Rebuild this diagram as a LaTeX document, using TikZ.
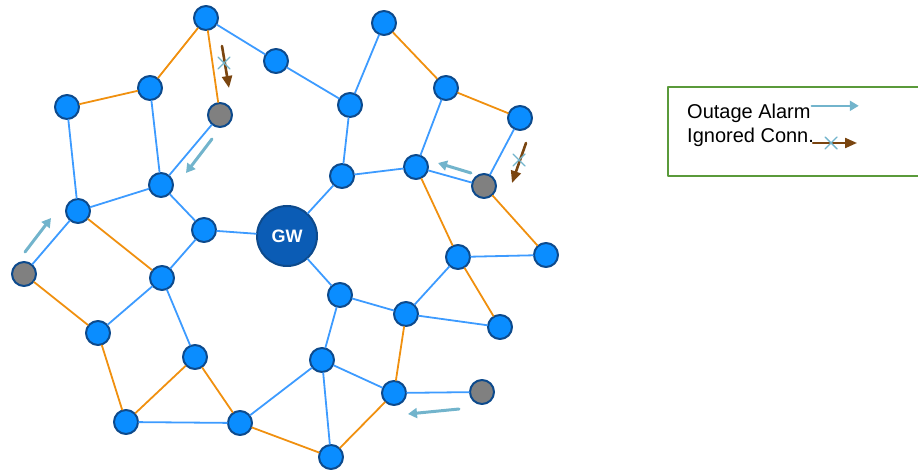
\documentclass[tikz,border=0pt]{standalone}
\usepackage{fontspec}
\setmainfont{Liberation Sans}
\usetikzlibrary{arrows.meta}
\definecolor{moteblue}{HTML}{0A8DFF}
\definecolor{rimblue}{HTML}{0D4A8C}
\definecolor{gwblue}{HTML}{0B5CB5}
\definecolor{wireblue}{HTML}{3D9BFF}
\definecolor{wireorange}{HTML}{F0900F}
\definecolor{alarmteal}{HTML}{72B4CC}
\definecolor{ignbrown}{HTML}{7A4510}
\definecolor{framegreen}{HTML}{5A9A3A}

\begin{document}
\begin{tikzpicture}[x=1pt,y=-1pt,line cap=round,line join=round,
  mote/.style={circle,draw=rimblue,line width=2pt,fill=moteblue,minimum size=24pt,inner sep=0pt},
  deadmote/.style={mote,fill=gray},
  gw/.style={circle,draw=rimblue,line width=2pt,fill=gwblue,minimum size=60pt,inner sep=0pt,text=white,font=\fontsize{18}{20}\selectfont\bfseries},
  wire/.style={draw=wireblue,line width=1.8pt},
  spanwire/.style={draw=wireorange,line width=1.8pt},
  alarm/.style={draw=alarmteal,line width=3pt,-{Triangle[length=9pt,width=10pt]}},
  ignored/.style={draw=ignbrown,line width=2.6pt,-{Triangle[length=12pt,width=10pt]}},
  xmark/.style={draw=alarmteal,line width=1.4pt},
  legendtext/.style={anchor=base west,inner sep=0pt,font=\fontsize{20}{24}\selectfont}]
\useasboundingbox (0,0) rectangle (918,470);
\node[mote] (v1) at (206,18) {};
\node[mote] (v2) at (276,61) {};
\node[mote] (v3) at (150,88) {};
\node[mote] (v4) at (67,107) {};
\node[deadmote] (v5) at (220,115) {};
\node[mote] (v6) at (350,105) {};
\node[mote] (v7) at (384,23) {};
\node[mote] (v8) at (446,88) {};
\node[mote] (v9) at (520,118) {};
\node[mote] (v10) at (416,167) {};
\node[mote] (v11) at (342,176) {};
\node[deadmote] (v12) at (484,186) {};
\node[mote] (v13) at (161,185) {};
\node[mote] (v14) at (78,211) {};
\node[mote] (v15) at (204,230) {};
\node[gw] (gw) at (287,236) {GW};
\node[deadmote] (v17) at (24,274) {};
\node[mote] (v18) at (162,278) {};
\node[mote] (v19) at (458,257) {};
\node[mote] (v20) at (546,255) {};
\node[mote] (v21) at (340,295) {};
\node[mote] (v22) at (406,314) {};
\node[mote] (v23) at (500,327) {};
\node[mote] (v24) at (98,333) {};
\node[mote] (v25) at (195,357) {};
\node[mote] (v26) at (322,360) {};
\node[deadmote] (v27) at (482,392) {};
\node[mote] (v28) at (394,393) {};
\node[mote] (v29) at (126,422) {};
\node[mote] (v30) at (240,423) {};
\node[mote] (v31) at (331,457) {};
% mesh links
\draw[wire] (v1) -- (v2);
\draw[spanwire] (v1) -- (v3);
\draw[spanwire] (v1) -- (v5);
\draw[spanwire] (v3) -- (v4);
\draw[wire] (v3) -- (v13);
\draw[wire] (v4) -- (v14);
\draw[wire] (v5) -- (v13);
\draw[wire] (v2) -- (v6);
\draw[wire] (v6) -- (v7);
\draw[wire] (v6) -- (v11);
\draw[spanwire] (v7) -- (v8);
\draw[spanwire] (v8) -- (v9);
\draw[wire] (v8) -- (v10);
\draw[wire] (v9) -- (v12);
\draw[wire] (v10) -- (v11);
\draw[wire] (v10) -- (v12);
\draw[spanwire] (v10) -- (v19);
\draw[spanwire] (v12) -- (v20);
\draw[wire] (v19) -- (v20);
\draw[wire] (v19) -- (v22);
\draw[spanwire] (v19) -- (v23);
\draw[wire] (v11) -- (gw);
\draw[wire] (v15) -- (gw);
\draw[wire] (gw) -- (v21);
\draw[wire] (v21) -- (v22);
\draw[wire] (v22) -- (v23);
\draw[spanwire] (v22) -- (v28);
\draw[wire] (v13) -- (v14);
\draw[wire] (v13) -- (v15);
\draw[wire] (v14) -- (v17);
\draw[spanwire] (v14) -- (v18);
\draw[wire] (v15) -- (v18);
\draw[spanwire] (v17) -- (v24);
\draw[wire] (v18) -- (v24);
\draw[wire] (v18) -- (v25);
\draw[spanwire] (v24) -- (v29);
\draw[spanwire] (v25) -- (v29);
\draw[spanwire] (v25) -- (v30);
\draw[wire] (v29) -- (v30);
\draw[wire] (v30) -- (v26);
\draw[wire] (v26) -- (v21);
\draw[wire] (v26) -- (v28);
\draw[wire] (v26) -- (v31);
\draw[spanwire] (v30) -- (v31);
\draw[spanwire] (v31) -- (v28);
\draw[wire] (v28) -- (v27);
% outage alarms
\draw[alarm] (212,139) -- (186,173);
\draw[alarm] (25,252) -- (51,218);
\draw[alarm] (471,173) -- (438,163);
\draw[alarm] (459,409) -- (408,414);
% ignored connections
\draw[ignored] (222,46) -- (229,88);
\draw[xmark] (224,63) ++(-6,-6) -- ++(12,12) (224,63) ++(-6,6) -- ++(12,-12);
\draw[ignored] (526,143) -- (512,183);
\draw[xmark] (519,160) ++(-6,-6) -- ++(12,12) (519,160) ++(-6,6) -- ++(12,-12);
% legend
\draw[framegreen,line width=2.4pt] (930,87) -- (668,87) -- (668,176) -- (930,176);
\node[legendtext] (lalarm) at (687,119) {Outage Alarm};
\node[legendtext] (lign) at (687,143) {Ignored Conn.};
\draw[alarm,line width=2.6pt] (lalarm.east) ++(1,-8) -- ++(47,0);
\draw[ignored,line width=2.2pt] (813,143) -- (857,143);
\draw[xmark] (831,143) ++(-6,-6) -- ++(12,12) (831,143) ++(-6,6) -- ++(12,-12);
\end{tikzpicture}
\end{document}
